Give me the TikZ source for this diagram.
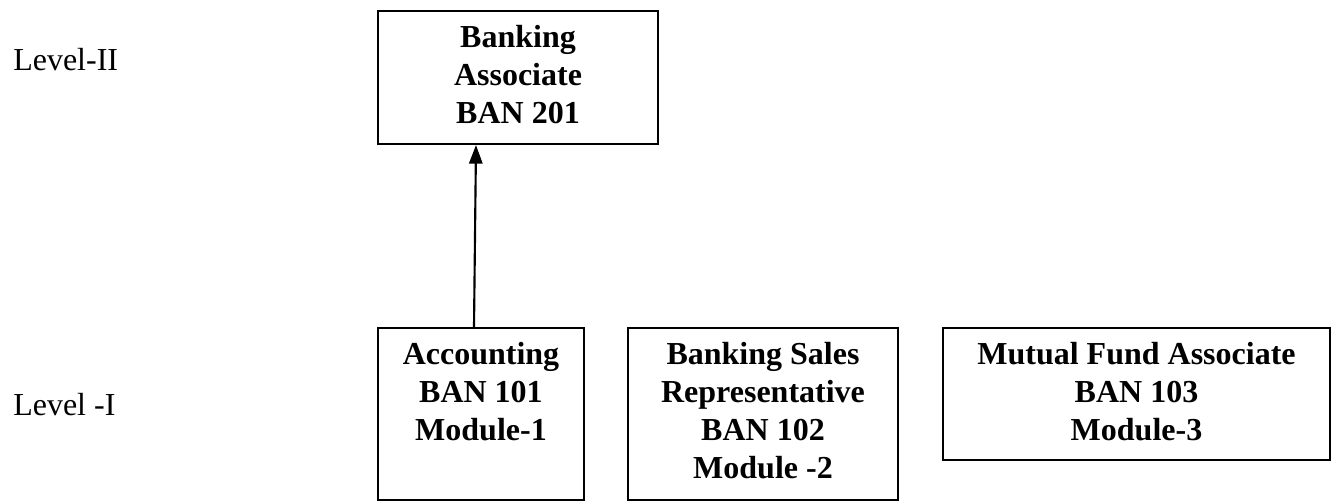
\documentclass[tikz,border=0pt]{standalone}
\usepackage{fontspec}
\setmainfont{Liberation Serif}
\usetikzlibrary{positioning,arrows.meta}

\begin{document}
\begin{tikzpicture}[x=0.75pt, y={(0pt,-0.75pt)},
  box/.style={draw, line width=1.5pt, anchor=north west, inner sep=0pt},
  txt/.style={font=\fontsize{24}{28.5}\selectfont\bfseries, align=center, inner sep=0pt},
  lvl/.style={font=\fontsize{24}{28}\selectfont, anchor=base west, inner sep=0pt}]
\useasboundingbox (0,0) rectangle (1337,500);
% Levels
\node[lvl] (lvtwo) at (13,70) {Level-II};
\node[lvl] (lvone) at (13,415) {Level -I};
% Level II
\node[box, minimum width=210pt, minimum height=99.75pt] (ban201) at (377,10) {};
\node[txt, below=11pt of ban201.north] (ban201t) {Banking\\Associate\\BAN 201};
% Level I
\node[box, minimum width=154.5pt, minimum height=129pt] (ban101) at (377,327) {};
\node[txt, below=11pt of ban101.north] (ban101t) {Accounting\\BAN 101\\Module-1};
\node[box, minimum width=202.5pt, minimum height=129pt] (ban102) at (627,327) {};
\node[txt, below=11pt of ban102.north] (ban102t) {Banking Sales\\Representative\\BAN 102\\Module -2};
\node[box, minimum width=290.25pt, minimum height=99pt] (ban103) at (942,327) {};
\node[txt, below=11pt of ban103.north] (ban103t) {Mutual Fund Associate\\BAN 103\\Module-3};
% Module-1 leads to BAN 201
\draw[-{Triangle[length=14pt,width=10pt]}, line width=1.6pt] ([xshift=-5.25pt]ban101.north) -- ([xshift=-31.5pt]ban201.south);
\end{tikzpicture}
\end{document}
